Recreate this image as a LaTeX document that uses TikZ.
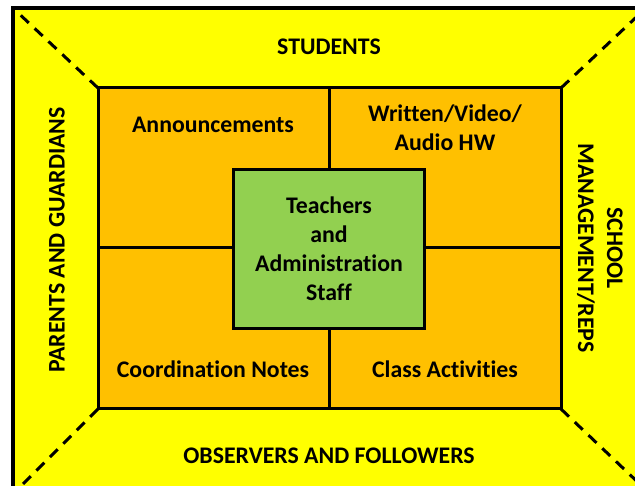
\documentclass[tikz,border=0pt]{standalone}
\usepackage{fontspec}
\setmainfont[Ligatures={NoCommon}]{Carlito}
\definecolor{outerfill}{HTML}{FFFF00}
\definecolor{cellfill}{HTML}{FFC000}
\definecolor{corefill}{HTML}{92D050}
\tikzset{
  lbl/.style={font=\fontsize{23.8}{29}\selectfont\bfseries, align=center, inner sep=0pt},
  diag/.style={line width=3pt, dash pattern=on 11pt off 8pt},
  cell/.style={draw=black, line width=3pt, fill=cellfill}
}
\begin{document}
\begin{tikzpicture}[x=1pt,y=-1pt]
  \useasboundingbox (0,0) rectangle (635,486);
  \begin{scope}
    \clip (0,0) rectangle (635,486);
    % outer frame
    \fill[white] (0,0) rectangle (635,486);
    \draw[line width=4pt, fill=outerfill] (13,8) rectangle (650,495);
    % corner diagonals
    \coordinate (tl) at (14,9);
    \coordinate (tr) at (646,8);
    \coordinate (bl) at (14,493);
    \coordinate (br) at (646,490);
    \coordinate (itl) at (98,88);
    \coordinate (itr) at (561,88);
    \coordinate (ibl) at (98,409);
    \coordinate (ibr) at (561,409);
    \draw[diag] (itl) -- (tl);
    \draw[diag] (itr) -- (tr);
    \draw[diag] (ibl) -- (bl);
    \draw[diag] (ibr) -- (br);
  \end{scope}
  % four quadrants
  \draw[cell] (itl) rectangle (ibr);
  \coordinate (mt) at (329,88);
  \coordinate (mb) at (329,409);
  \coordinate (ml) at (98,248);
  \coordinate (mr) at (561,248);
  \draw[line width=3pt] (mt) -- (mb);
  \draw[line width=3pt] (ml) -- (mr);
  % central box
  \node[draw=black, line width=3pt, fill=corefill, minimum width=191pt, minimum height=159pt, inner sep=0pt] (core) at (329,249) {};
  \node[lbl] (coretext) at (329,249) {Teachers\\and\\Administration\\Staff};
  % quadrant labels
  \node[lbl] (ann) at (213,125) {Announcements};
  \node[lbl] (hw) at (445,128) {Written/Video/\\Audio HW};
  \node[lbl] (coord) at (213,369) {Coordination Notes};
  \node[lbl] (act) at (445,369) {Class Activities};
  % audience labels
  \node[lbl] (stud) at (329,47) {STUDENTS};
  \node[lbl] (obs) at (329,456) {OBSERVERS AND FOLLOWERS};
  \node[lbl, rotate=90] (par) at (57,240) {PARENTS AND GUARDIANS};
  \node[lbl, rotate=-90] (sch) at (600,248) {SCHOOL\\MANAGEMENT/REPS};
\end{tikzpicture}
\end{document}
